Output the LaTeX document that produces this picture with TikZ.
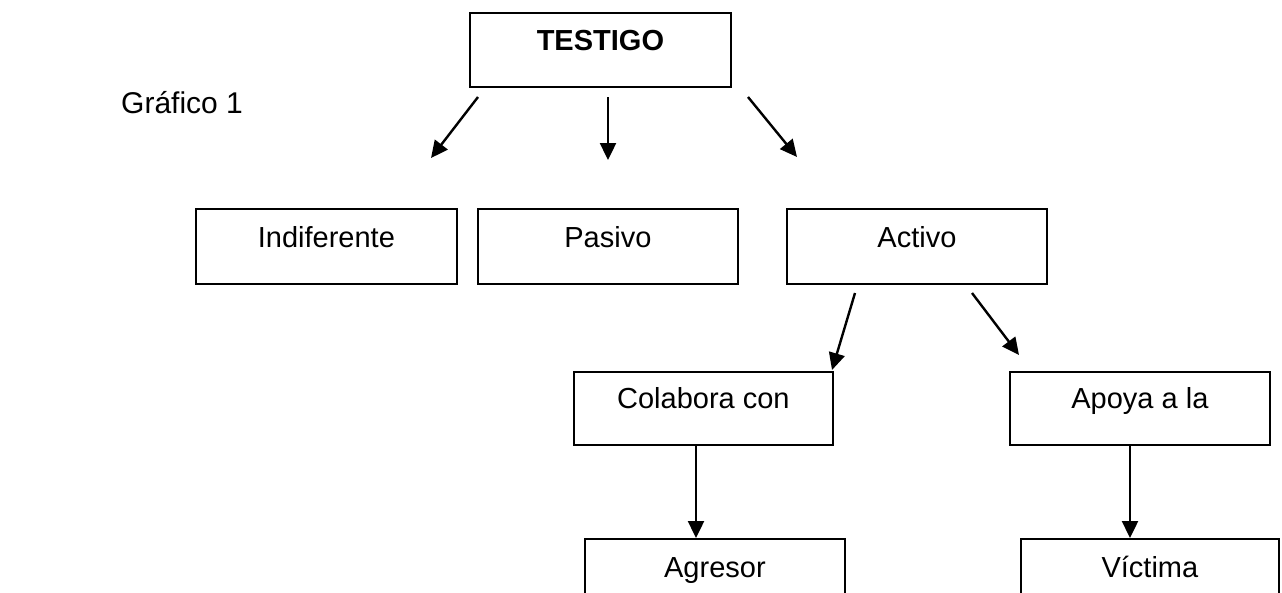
\documentclass[tikz,border=0pt]{standalone}
\usepackage{fontspec}
\setmainfont{Liberation Sans}
\usetikzlibrary{arrows.meta}
\begin{document}
\begin{tikzpicture}[x=1pt,y=-1pt,
  box/.style={draw, line width=1.8pt, inner sep=0pt, minimum width=#1,
    text height=39pt, text depth=36pt, anchor=north west,
    font=\fontsize{29}{34}\selectfont},
  arr/.style={line width=2.4pt, -{Triangle[length=17pt,width=16pt]}}]
\useasboundingbox (0,0) rectangle (1282,592);
\clip (0,0) rectangle (1282,592);
\node[anchor=base west, font=\fontsize{30}{35}\selectfont, inner sep=0pt] (titulo) at (121,113) {Gráfico 1};
\node[box=261pt, text height=38pt, text depth=36pt, font=\fontsize{29}{34}\selectfont\bfseries] (testigo) at (469,12) {TESTIGO};
\node[box=261pt] (ind) at (195,208) {Indiferente};
\node[box=260pt] (pas) at (477,208) {Pasivo};
\node[box=260pt] (act) at (786,208) {Activo};
\node[box=259pt, text height=37pt, text depth=36pt] (col) at (573,371) {Colabora con};
\node[box=260pt, text height=37pt, text depth=36pt] (apo) at (1009,371) {Apoya a la};
\node[box=260pt] (agr) at (584,538) {Agresor};
\node[box=258pt] (vic) at (1020,538) {Víctima};
\coordinate (t1) at (478,97);  \coordinate (i1) at (431,158);
\coordinate (t2) at (608,97);  \coordinate (p1) at (608,160);
\coordinate (t3) at (748,97);  \coordinate (a1) at (797,157);
\coordinate (c0) at (855,293); \coordinate (c1) at (832,370);
\coordinate (d0) at (972,293); \coordinate (d1) at (1019,355);
\coordinate (e0) at (696,444); \coordinate (e1) at (696,538);
\coordinate (f0) at (1130,444); \coordinate (f1) at (1130,538);
\draw[arr] (t1) -- (i1);
\draw[arr] (t2) -- (p1);
\draw[arr] (t3) -- (a1);
\draw[arr] (c0) -- (c1);
\draw[arr] (d0) -- (d1);
\draw[arr] (e0) -- (e1);
\draw[arr] (f0) -- (f1);
\end{tikzpicture}
\end{document}
